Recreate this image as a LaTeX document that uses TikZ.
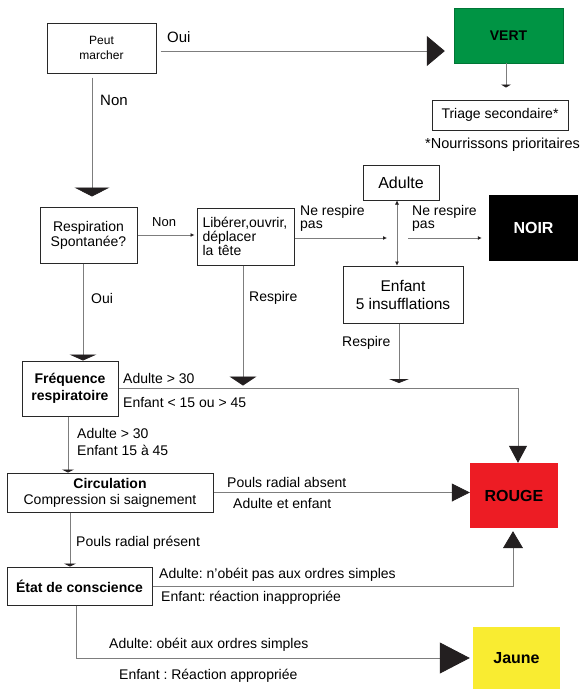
\documentclass[tikz,border=0pt]{standalone}
\usepackage{fontspec}
\setmainfont{Liberation Sans}
\usetikzlibrary{arrows.meta}

\definecolor{vertc}{RGB}{0,148,68}
\definecolor{rougec}{RGB}{237,28,36}
\definecolor{jaunec}{RGB}{249,236,49}
\definecolor{tipc}{RGB}{35,31,32}
\definecolor{linec}{RGB}{125,125,125}
\definecolor{boxc}{RGB}{40,40,40}

\newcommand{\tsize}[2]{\fontsize{#1}{#2}\selectfont}
\frenchspacing

\begin{document}
\begin{tikzpicture}[x=1pt,y=-1pt,
        box/.style={draw=boxc,line width=1pt,inner sep=2pt,align=center,font=\tsize{14}{15}},
        colbox/.style={inner sep=0pt,font=\bfseries\tsize{16}{18}},
        lab/.style={anchor=west,inner sep=0pt,align=left,font=\tsize{14}{16}},
        conn/.style={draw=linec,line width=0.8pt},
        smalltip/.style={-{Latex[length=4pt,width=4pt,color=tipc]}},
        headtip/.style 2 args={-{Triangle[width=#1,length=#2,color=tipc]}}]
        \useasboundingbox (0,0) rectangle (582,689);

        % boxes
        \node[box,minimum width=109pt,minimum height=50pt,font=\tsize{12}{15}] (marcher) at (101.5,48) {Peut\\marcher};
        \node[colbox,fill=vertc,draw=vertc!80!black,minimum width=109pt,minimum height=55pt,font=\bfseries\tsize{14}{16}] (vert) at (508.5,35.5) {VERT};
        \node[box,minimum width=136pt,minimum height=30pt] (triage) at (500,115) {Triage secondaire*};
        \node[box,minimum width=97pt,minimum height=56pt] (respi) at (88.5,235) {Respiration\\Spontanée?};
        \node[box,minimum width=97pt,minimum height=57pt,inner xsep=5.5pt,text width=86pt,align=left,font=\tsize{14}{14}] (liberer) at (245.5,236.5) {Libérer,ouvrir,\\déplacer\\la tête};
        \node[box,minimum width=76pt,minimum height=35pt,font=\tsize{16}{18}] (adulte) at (401,182.5) {Adulte};
        \node[colbox,fill=black,text=white,minimum width=89pt,minimum height=66pt] (noir) at (533.5,228) {NOIR};
        \node[box,minimum width=120pt,minimum height=57pt,font=\tsize{15.5}{18}] (enfant) at (403,294.5) {Enfant\\5 insufflations};
        \node[box,minimum width=96pt,minimum height=55pt,font=\bfseries\tsize{14}{17}] (freq) at (70,388.5) {Fréquence\\respiratoire};
        \node[colbox,fill=rougec,minimum width=88pt,minimum height=65pt] (rouge) at (514,495.5) {ROUGE};
        \node[box,minimum width=206pt,minimum height=39pt,font=\tsize{14}{16}] (circ) at (110,492.5) {\textbf{Circulation}\\Compression si saignement};
        \node[box,minimum width=145pt,minimum height=38pt,font=\bfseries\tsize{14}{16}] (etat) at (79.5,586) {État de conscience};
        \node[colbox,fill=jaunec,minimum width=87pt,minimum height=62pt] (jaune) at (516.5,658) {Jaune};
        \coordinate (split) at (397,238);

        % labels
        \node[lab,font=\tsize{15}{17}] (oui1) at (167,37) {Oui};
        \node[lab,font=\tsize{15}{17}] (non1) at (100,100) {Non};
        \node[lab,font=\tsize{14.5}{16}] (nourr) at (425,145) {*Nourrissons prioritaires};
        \node[lab,font=\tsize{13}{15}] (non2) at (152,222) {Non};
        \node[lab,font=\tsize{14}{12.5}] (nrp1) at (300,218.5) {Ne respire\\pas};
        \node[lab,font=\tsize{14}{12.5}] (nrp2) at (412,218.5) {Ne respire\\pas};
        \node[lab] (oui2) at (91,298) {Oui};
        \node[lab] (resp1) at (249,298) {Respire};
        \node[lab] (resp2) at (342,343) {Respire};
        \node[lab] (fr1) at (123,378) {Adulte > 30};
        \node[lab] (fr2) at (123,402) {Enfant < 15 ou > 45};
        \node[lab,font=\tsize{14}{17}] (fr3) at (77,441.5) {Adulte > 30\\Enfant 15 à 45};
        \node[lab] (ci1) at (227,482) {Pouls radial absent};
        \node[lab] (ci2) at (233,503) {Adulte et enfant};
        \node[lab] (ci3) at (76,543) {Pouls radial présent};
        \node[lab] (et1) at (159,575) {Adulte: n'obéit pas aux ordres simples};
        \node[lab] (et2) at (161,598) {Enfant: réaction inappropriée};
        \node[lab] (et3) at (109,645) {Adulte: obéit aux ordres simples};
        \node[lab] (et4) at (119,676) {Enfant : Réaction appropriée};

        % connectors
        \draw[conn,headtip={30pt}{18pt},shorten <=4pt,shorten >=9pt] ([yshift=-3pt]marcher.east) -- ([yshift=-3pt]marcher.east -| vert.west);
        \draw[conn,headtip={10pt}{3pt},shorten >=12pt] ([xshift=-2.5pt]vert.south) -- ([xshift=-2.5pt]vert.south |- triage.north);
        \draw[conn,headtip={35pt}{9pt},shorten <=4pt,shorten >=10pt] ([xshift=-9.5pt]marcher.south) -- ([xshift=-9.5pt]marcher.south |- respi.north);
        \draw[conn,smalltip,shorten >=2pt] (respi.east) -- (respi.east -| liberer.west);
        \draw[conn,smalltip,shorten >=10pt] (liberer.east |- split) -- (split);
        \draw[conn,smalltip,shorten <=11pt,shorten >=7pt] (split) -- (split -| noir.west);
        \draw[conn,{Latex[length=4pt,width=4pt,color=tipc]}-{Latex[length=4pt,width=4pt,color=tipc]},line width=0.5pt] (split |- adulte.south) -- (split |- enfant.north);
        \draw[conn,headtip={27pt}{6pt}] ([xshift=-5.5pt]respi.south) -- ([xshift=-5.5pt]respi.south |- freq.north);
        \draw[conn,headtip={27pt}{9pt},shorten >=3pt] ([xshift=-2.5pt]liberer.south) -- ([xshift=-2.5pt]liberer.south |- freq.east);
        \draw[conn,headtip={20pt}{4pt},shorten >=5.5pt] ([xshift=-4pt]enfant.south) -- ([xshift=-4pt]enfant.south |- freq.east);
        \draw[conn,headtip={18pt}{17pt}] (freq.east) -| ([xshift=4pt]rouge.north);
        \draw[conn,headtip={12pt}{3pt}] ([xshift=-2pt]freq.south) -- ([xshift=-2pt]freq.south |- circ.north);
        \draw[conn,headtip={18pt}{18pt}] (circ.east) -- (circ.east -| rouge.west);
        \draw[conn,headtip={12pt}{3pt}] (freq.south |- circ.south) -- (freq.south |- etat.north);
        \draw[conn,headtip={20pt}{17pt},shorten >=3pt] (etat.east) -| ([xshift=-1pt]rouge.south);
        \draw[conn,headtip={31pt}{30pt},shorten >=3pt] ([xshift=-3.5pt]etat.south) |- (jaune.west);
\end{tikzpicture}
\end{document}
